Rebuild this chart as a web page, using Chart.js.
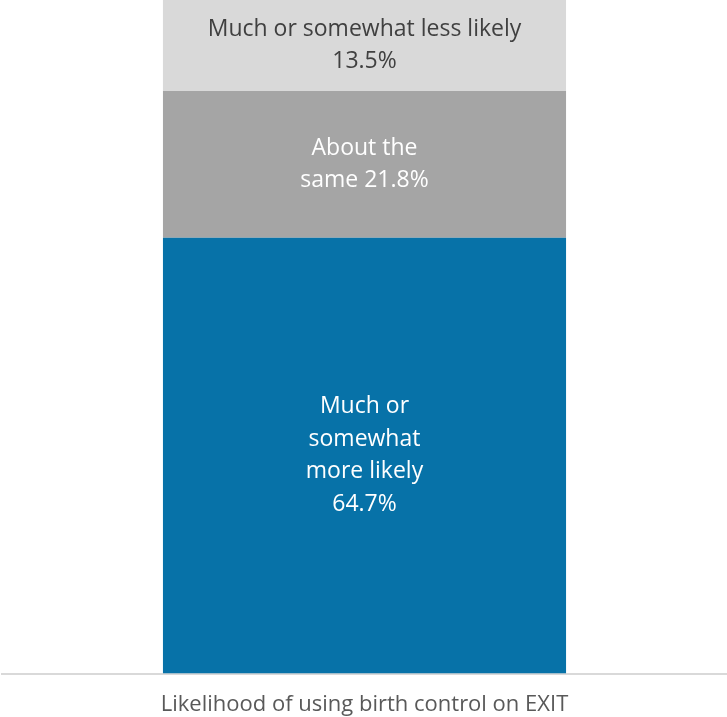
<!DOCTYPE html>
<html>
<head>
<meta charset="utf-8">
<script src="https://cdn.jsdelivr.net/npm/chart.js@4"></script>
<style>
  html, body { margin: 0; padding: 0; background: #fff; overflow: hidden; }
  #wrap { width: 727px; height: 728px; }
</style>
</head>
<body>
<div id="wrap"><canvas id="chart"></canvas></div>
<script>
// ── Data ──────────────────────────────────────────────────
const categories = ['Likelihood of using birth control on EXIT'];
const seriesNames = ['Much or somewhat more likely', 'About the same', 'Much or somewhat less likely'];
const seriesValues = [[64.7], [21.8], [13.5]];
const segmentLabels = [
  ['Much or', 'somewhat', 'more likely', '64.7%'],
  ['About the', 'same 21.8%'],
  ['Much or somewhat less likely', '13.5%']
];
const seriesColors = ['#0772a8', '#a5a5a5', '#d9d9d9'];
const labelColors  = ['#ffffff', '#ffffff', '#404040'];

const FONT = '"Open Sans", "Noto Sans", sans-serif';

// ── Segment labels plugin ─────────────────────────────────
const segLabels = {
  id: 'segLabels',
  afterDatasetsDraw(chart) {
    const ctx = chart.ctx;
    ctx.save();
    ctx.font = `23px ${FONT}`;
    ctx.textAlign = 'center';
    ctx.textBaseline = 'middle';
    chart.data.datasets.forEach((ds, i) => {
      const bar = chart.getDatasetMeta(i).data[0];
      const lines = segmentLabels[i];
      const lh = 32.5;
      const cy = (bar.y + bar.base) / 2;
      ctx.fillStyle = labelColors[i];
      lines.forEach((t, k) => {
        ctx.fillText(t, bar.x, cy + (k - (lines.length - 1) / 2) * lh);
      });
    });
    ctx.restore();
  }
};

new Chart(document.getElementById('chart'), {
  type: 'bar',
  data: {
    labels: categories,
    datasets: seriesNames.map((name, i) => ({
      label: name,
      data: seriesValues[i],
      backgroundColor: seriesColors[i],
      borderWidth: 0,
      categoryPercentage: 1,
      barPercentage: 0.556
    }))
  },
  options: {
    responsive: true,
    maintainAspectRatio: false,
    animation: false,
    layout: { padding: { left: 2, right: 0, top: 0, bottom: 0 } },
    plugins: { legend: { display: false }, tooltip: { enabled: false } },
    scales: {
      x: {
        stacked: true,
        grid: { display: false },
        border: { display: true, color: '#d9d9d9', width: 2 },
        ticks: { color: '#595959', font: { family: FONT, size: 22 }, padding: 10 }
      },
      y: {
        stacked: true,
        display: false,
        min: 0,
        max: 100
      }
    }
  },
  plugins: [segLabels]
});
</script>
</body>
</html>
